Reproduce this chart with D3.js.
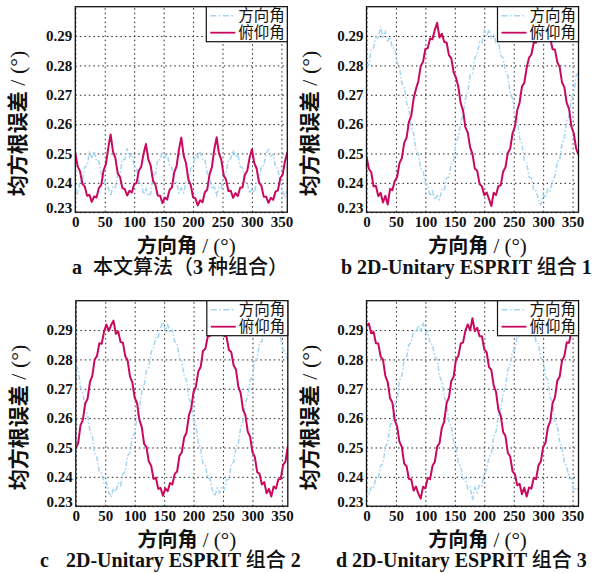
<!DOCTYPE html>
<html>
<head>
<meta charset="utf-8">
<script src="https://cdn.jsdelivr.net/npm/d3@7"></script>
<style>
  body { margin: 0; background: #fff; }
</style>
</head>
<body>
<svg id="fig" width="606" height="573"></svg>
<script>
// sampled azimuth angles (deg), one value every 4 degrees
const angles = d3.range(0, 361, 4);
const xTicks = [0, 50, 100, 150, 200, 250, 300, 350];
const yTicks = [0.23, 0.24, 0.25, 0.26, 0.27, 0.28, 0.29];
const legendNames = ['方向角', '俯仰角'];

// a: proposed method
const aAzimuth = [
  .2378,.2364,.2406,.2406,.2455,.2458,.2503,.2487,.2508,.2474,.2474,.2429,.2425,.2381,.2383,
  .2356,.2388,.2384,.2428,.2432,.2480,.2479,.2517,.2488,.2498,.2455,.2451,.2403,.2398,.2361,
  .2380,.2356,.2362,.2423,.2430,.2479,.2479,.2506,.2486,.2500,.2460,.2452,.2401,.2401,.2366,
  .2382,.2367,.2403,.2402,.2450,.2457,.2498,.2485,.2508,.2481,.2480,.2432,.2421,.2379,.2386,
  .2358,.2385,.2382,.2428,.2434,.2479,.2482,.2511,.2489,.2496,.2455,.2451,.2404,.2399,.2364,
  .2380,.2368,.2404,.2405,.2456,.2459,.2499,.2513,.2491,.2498,.2456,.2449,.2402,.2372,.2351,
  .2375];
const aElevation = [
  .2500,.2456,.2440,.2397,.2388,.2356,.2359,.2335,.2354,.2350,.2382,.2392,.2442,.2464,.2519,
  .2565,.2506,.2485,.2433,.2420,.2382,.2379,.2357,.2373,.2367,.2396,.2399,.2442,.2455,.2500,
  .2532,.2480,.2459,.2407,.2394,.2357,.2356,.2331,.2350,.2343,.2376,.2384,.2436,.2457,.2514,
  .2554,.2493,.2467,.2411,.2393,.2351,.2347,.2323,.2341,.2334,.2368,.2377,.2429,.2454,.2514,
  .2555,.2500,.2478,.2425,.2411,.2372,.2373,.2349,.2365,.2355,.2383,.2385,.2428,.2441,.2486,
  .2514,.2467,.2448,.2401,.2390,.2353,.2353,.2332,.2349,.2342,.2370,.2374,.2416,.2427,.2473,
  .2503];

// b: 2D-Unitary ESPRIT, combination 1
const bAzimuth = [
  .2792,.2803,.2854,.2861,.2899,.2890,.2932,.2898,.2915,.2884,.2897,.2860,.2858,.2807,.2793,
  .2740,.2726,.2674,.2652,.2590,.2569,.2511,.2500,.2450,.2442,.2397,.2392,.2355,.2371,.2342,
  .2356,.2343,.2378,.2376,.2417,.2419,.2466,.2475,.2537,.2556,.2611,.2629,.2686,.2708,.2766,
  .2773,.2826,.2839,.2879,.2876,.2919,.2899,.2921,.2894,.2905,.2877,.2881,.2833,.2825,.2780,
  .2765,.2704,.2688,.2634,.2616,.2552,.2532,.2478,.2469,.2421,.2416,.2374,.2373,.2342,.2326,
  .2361,.2349,.2379,.2372,.2411,.2423,.2472,.2478,.2534,.2554,.2612,.2627,.2686,.2707,.2765,
  .2778];
const bElevation = [
  .2490,.2448,.2437,.2388,.2389,.2355,.2366,.2333,.2356,.2326,.2379,.2375,.2407,.2419,.2467,
  .2484,.2536,.2553,.2608,.2628,.2687,.2720,.2746,.2797,.2812,.2856,.2859,.2892,.2889,.2921,
  .2945,.2895,.2908,.2880,.2878,.2835,.2824,.2776,.2758,.2727,.2671,.2646,.2589,.2571,.2521,
  .2498,.2448,.2441,.2396,.2388,.2358,.2367,.2345,.2321,.2366,.2359,.2389,.2392,.2438,.2453,
  .2502,.2516,.2569,.2591,.2648,.2673,.2728,.2741,.2792,.2826,.2837,.2877,.2878,.2911,.2897,
  .2916,.2918,.2890,.2893,.2855,.2854,.2811,.2795,.2742,.2726,.2672,.2652,.2591,.2568,.2517,
  .2495];

// c: 2D-Unitary ESPRIT, combination 2
const cAzimuth = [
  .2781,.2765,.2707,.2687,.2626,.2612,.2555,.2538,.2481,.2464,.2417,.2413,.2375,.2382,.2345,
  .2331,.2360,.2350,.2379,.2370,.2410,.2419,.2472,.2482,.2535,.2550,.2607,.2631,.2692,.2710,
  .2764,.2773,.2825,.2838,.2879,.2876,.2908,.2927,.2897,.2918,.2891,.2900,.2861,.2854,.2805,
  .2794,.2744,.2730,.2668,.2648,.2594,.2574,.2515,.2496,.2444,.2438,.2395,.2394,.2354,.2334,
  .2361,.2345,.2368,.2358,.2390,.2392,.2443,.2450,.2500,.2513,.2568,.2592,.2653,.2672,.2728,
  .2743,.2795,.2803,.2856,.2861,.2895,.2914,.2896,.2917,.2899,.2911,.2876,.2873,.2831,.2826,
  .2795];
const cElevation = [
  .2498,.2514,.2576,.2594,.2650,.2666,.2723,.2744,.2799,.2812,.2855,.2853,.2895,.2919,.2897,
  .2917,.2932,.2887,.2895,.2859,.2857,.2811,.2797,.2742,.2722,.2670,.2652,.2594,.2570,.2512,
  .2501,.2452,.2438,.2393,.2397,.2359,.2362,.2336,.2361,.2351,.2379,.2374,.2410,.2418,.2471,
  .2484,.2534,.2550,.2609,.2633,.2690,.2707,.2759,.2774,.2829,.2836,.2877,.2881,.2913,.2896,
  .2917,.2898,.2911,.2880,.2877,.2832,.2825,.2780,.2766,.2707,.2685,.2629,.2610,.2554,.2537,
  .2484,.2468,.2416,.2410,.2374,.2382,.2344,.2359,.2333,.2367,.2360,.2392,.2393,.2441,.2452,
  .2504];

// d: 2D-Unitary ESPRIT, combination 3
const dAzimuth = [
  .2361,.2339,.2364,.2361,.2397,.2393,.2438,.2445,.2501,.2518,.2574,.2592,.2646,.2665,.2727,
  .2745,.2800,.2806,.2851,.2857,.2898,.2893,.2916,.2898,.2927,.2891,.2897,.2853,.2851,.2808,
  .2800,.2743,.2725,.2673,.2652,.2588,.2571,.2518,.2501,.2446,.2435,.2393,.2397,.2359,.2366,
  .2321,.2363,.2347,.2374,.2370,.2414,.2423,.2467,.2478,.2538,.2554,.2611,.2629,.2685,.2703,
  .2765,.2780,.2826,.2834,.2880,.2880,.2910,.2922,.2898,.2915,.2890,.2898,.2860,.2854,.2804,
  .2793,.2742,.2731,.2671,.2649,.2589,.2573,.2519,.2503,.2448,.2436,.2394,.2395,.2353,.2364,
  .2355];
const dElevation = [
  .2915,.2922,.2889,.2894,.2855,.2854,.2810,.2799,.2744,.2723,.2668,.2653,.2593,.2572,.2519,
  .2502,.2445,.2436,.2393,.2392,.2353,.2367,.2343,.2326,.2366,.2361,.2396,.2392,.2437,.2451,
  .2502,.2515,.2568,.2588,.2651,.2671,.2726,.2741,.2801,.2811,.2854,.2858,.2899,.2919,.2899,
  .2940,.2896,.2908,.2879,.2879,.2834,.2825,.2774,.2764,.2711,.2689,.2628,.2608,.2553,.2539,
  .2482,.2469,.2419,.2409,.2371,.2376,.2341,.2363,.2333,.2364,.2360,.2396,.2392,.2439,.2452,
  .2502,.2516,.2569,.2588,.2651,.2671,.2727,.2741,.2796,.2811,.2858,.2857,.2894,.2911,.2898,
  .2916];

const panels = [
  {left: 75.3,  top: 6.7,   az: aAzimuth, el: aElevation, tag: 'a', tagX: 72,  capX: 93,  capY: 274, cap: '本文算法（3 种组合）'},
  {left: 366.5, top: 6.7,   az: bAzimuth, el: bElevation, tag: 'b', tagX: 341, capX: 357, capY: 274, cap: '2D-Unitary ESPRIT 组合 1'},
  {left: 75.8,  top: 300.7, az: cAzimuth, el: cElevation, tag: 'c', tagX: 40,  capX: 66,  capY: 567, cap: '2D-Unitary ESPRIT 组合 2'},
  {left: 366.5, top: 300.7, az: dAzimuth, el: dElevation, tag: 'd', tagX: 336, capX: 352, capY: 567, cap: '2D-Unitary ESPRIT 组合 3'}
];

const W = 212, H = 205.5;
const blue = '#a4d5f2', red = '#c8095e';
const serif = '"Liberation Serif", "Times New Roman", serif';
const cjk = '"Noto Sans CJK SC", sans-serif';

let x = d3.scaleLinear().domain([0, 360]).range([0, W]);
let y = d3.scaleLinear().domain([0.23, 0.30]).range([H, 0]);
let line = d3.line().x((d, i) => x(angles[i])).y(d => y(d));

let svg = d3.select('#fig');

// mixed text: latin runs bold serif, CJK runs plain
function mixed(sel, str, size) {
  str.split(/([\u3000-\u9fff\uff00-\uffef]+)/).filter(s => s.length).forEach(s => {
    let isCjk = /[\u3000-\u9fff\uff00-\uffef]/.test(s);
    sel.append('tspan').text(s)
      .attr('font-family', isCjk ? cjk : serif)
      .attr('font-weight', isCjk ? 500 : 'bold')
      .attr('font-size', size);
  });
}

panels.forEach((p, k) => {
  let g = svg.append('g').attr('transform', `translate(${p.left},${p.top})`);

  svg.append('clipPath').attr('id', 'clip' + k)
    .append('rect').attr('width', W).attr('height', H);

  // grid + tick labels
  let xa = g.append('g').attr('transform', `translate(0,${H})`)
    .call(d3.axisBottom(x).tickValues(xTicks).tickFormat(d3.format('d')).tickSize(-H).tickPadding(4));
  let ya = g.append('g')
    .call(d3.axisLeft(y).tickValues(yTicks).tickFormat(d3.format('.2f')).tickSize(-W).tickPadding(3));
  [xa, ya].forEach(a => {
    a.select('.domain').remove();
    a.selectAll('.tick line').attr('stroke', '#222').attr('stroke-width', 1)
      .attr('stroke-dasharray', '1.5,3');
    a.selectAll('.tick text').attr('font-family', serif).attr('font-weight', 'bold')
      .attr('font-size', 15).attr('fill', '#111');
  });
  ya.selectAll('.tick text').filter(d => d === 0.23).attr('dy', '0.05em');

  let plot = g.append('g').attr('clip-path', `url(#clip${k})`);
  plot.append('path').datum(p.az).attr('d', line)
    .attr('fill', 'none').attr('stroke', blue).attr('stroke-width', 1.5)
    .attr('stroke-dasharray', '5,2,1.5,2');
  plot.append('path').datum(p.el).attr('d', line)
    .attr('fill', 'none').attr('stroke', red).attr('stroke-width', 2)
    .attr('stroke-linejoin', 'round');

  // frame
  g.append('rect').attr('width', W).attr('height', H)
    .attr('fill', 'none').attr('stroke', '#111').attr('stroke-width', 1.3);

  // legend
  let lg = g.append('g').attr('transform', `translate(${W - 81},0)`);
  lg.append('rect').attr('width', 81).attr('height', 35)
    .attr('fill', '#fff').attr('stroke', '#111').attr('stroke-width', 1.2);
  legendNames.forEach((name, j) => {
    let ly = 9 + j * 17;
    lg.append('line').attr('x1', 4).attr('x2', 29).attr('y1', ly).attr('y2', ly)
      .attr('stroke', j ? red : blue).attr('stroke-width', j ? 1.8 : 1.4)
      .attr('stroke-dasharray', j ? null : '6,2.5,1.5,2.5');
    lg.append('text').attr('x', 32).attr('y', ly + 5).text(name)
      .attr('font-family', cjk).attr('font-size', 15.5).attr('fill', '#111');
  });

  // axis titles
  let xt = g.append('text').attr('x', W / 2 + 5).attr('y', H + 41)
    .attr('text-anchor', 'middle').attr('fill', '#111');
  xt.append('tspan').text('方向角').attr('font-family', cjk).attr('font-weight', 'bold').attr('font-size', 20);
  xt.append('tspan').text(' / (°)').attr('font-family', serif).attr('font-size', 21);

  let yt = g.append('text')
    .attr('transform', `translate(${-50},${H / 2 + 14}) rotate(-90)`)
    .attr('text-anchor', 'middle').attr('fill', '#111');
  yt.append('tspan').text('均方根误差').attr('font-family', cjk).attr('font-weight', 'bold').attr('font-size', 21);
  yt.append('tspan').text(' / (°)').attr('font-family', serif).attr('font-size', 22);

  // caption
  svg.append('text').attr('x', p.tagX).attr('y', p.capY).text(p.tag)
    .attr('font-family', serif).attr('font-weight', 'bold').attr('font-size', 20).attr('fill', '#111');
  let cap = svg.append('text').attr('x', p.capX).attr('y', p.capY).attr('fill', '#111');
  mixed(cap, p.cap, 20);
});
</script>
</body>
</html>
